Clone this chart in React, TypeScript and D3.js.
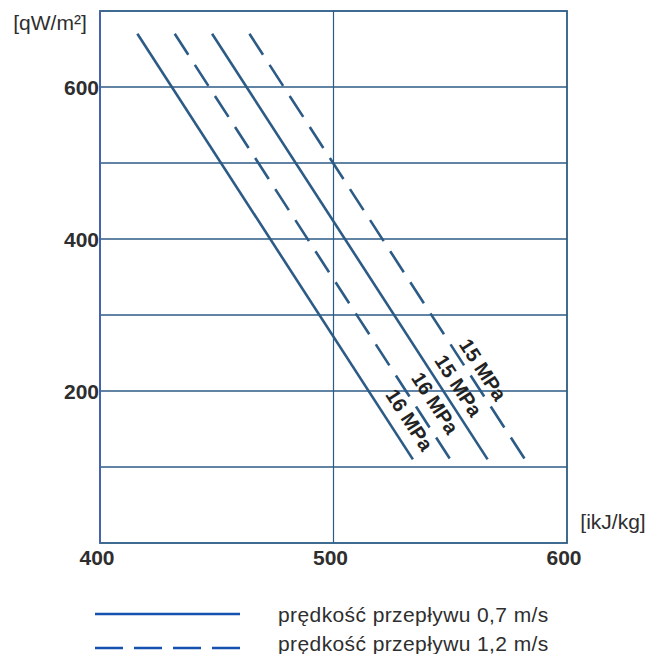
import React from "react";
import * as d3 from "d3";

// entalpia [kJ/kg] at the top and bottom end of each line
const startH = [416, 432, 448, 464];
const endH = [534, 550, 566, 582];
const qEnds = [670, 110];
const lineLabels = ["16 MPa", "16 MPa", "15 MPa", "15 MPa"];
const dashed = [false, true, false, true];
// where each rotated label is centred (h, q)
const labelH = [532.5, 543.5, 553.5, 564];
const labelQ = [162, 184, 207, 228];

const xTicks = [400, 500, 600];
const yTicks = [200, 400, 600];
const yGrid = [100, 200, 300, 400, 500, 600];
const legendLabels = ["prędkość przepływu 0,7 m/s", "prędkość przepływu 1,2 m/s"];

const W = 650;
const H = 654;
const lineColor = "#2c5b86";
const textColor = "#2e2e2e";

export default function App() {
  const x = d3.scaleLinear().domain([400, 600]).range([100, 567]);
  const y = d3.scaleLinear().domain([0, 700]).range([543, 11]);
  const line = d3.line<[number, number]>().x(d => x(d[0])).y(d => y(d[1]));

  return (
    <svg width={W} height={H} style={{ position: "absolute", left: 0, top: 0, background: "#fff" }}
      fontFamily="'Liberation Sans', Arial, sans-serif">
      {/* grid */}
      {yGrid.map(v => (
        <line key={v} x1={x(400)} x2={x(600)} y1={y(v)} y2={y(v)} stroke={lineColor} strokeWidth={1.6} />
      ))}
      <line x1={x(500)} x2={x(500)} y1={y(0)} y2={y(700)} stroke={lineColor} strokeWidth={1.2} />
      <rect x={x(400)} y={y(700)} width={x(600) - x(400)} height={y(0) - y(700)}
        fill="none" stroke={lineColor} strokeWidth={1.8} />
      <line x1={x(400)} x2={x(400)} y1={y(0)} y2={y(700)} stroke="#4a62b2" strokeWidth={1.8} />

      {/* curves */}
      {startH.map((h, i) => (
        <path key={i}
          d={line([[h, qEnds[0]], [endH[i], qEnds[1]]]) || ""}
          fill="none" stroke={lineColor} strokeWidth={2.6}
          strokeDasharray={dashed[i] ? "25 12" : undefined} />
      ))}

      {/* line labels */}
      {startH.map((h, i) => {
        const ang = Math.atan2(y(qEnds[1]) - y(qEnds[0]), x(endH[i]) - x(h)) * 180 / Math.PI;
        const lx = x(labelH[i]);
        const ly = y(labelQ[i]);
        return (
          <text key={i} x={lx} y={ly} transform={`rotate(${ang} ${lx} ${ly})`}
            textAnchor="middle" dominantBaseline="central" fontSize={20} fontWeight="bold"
            fill="#222">
            {lineLabels[i]}
          </text>
        );
      })}

      {/* axes labels */}
      {yTicks.map(v => (
        <text key={v} x={99} y={y(v)} textAnchor="end" dominantBaseline="central"
          fontSize={21} fontWeight="bold" fill={textColor}>{v}</text>
      ))}
      {xTicks.map(v => (
        <text key={v} x={x(v) - 3} y={557} textAnchor="middle" dominantBaseline="central"
          fontSize={21} fontWeight="bold" fill={textColor}>{v}</text>
      ))}
      <text x={50} y={22} textAnchor="middle" dominantBaseline="central" fontSize={21} fill={textColor}>[qW/m²]</text>
      <text x={613} y={521} textAnchor="middle" dominantBaseline="central" fontSize={21} fill={textColor}>[ikJ/kg]</text>

      {/* legend */}
      {legendLabels.map((l, i) => (
        <g key={i}>
          <line x1={95} x2={240} y1={614 + i * 34} y2={614 + i * 34} stroke="#1552b0" strokeWidth={2.6}
            strokeDasharray={i === 1 ? "28 11" : undefined} />
          <text x={278} y={622 + i * 29} fontSize={21} letterSpacing={0.4} fill={textColor}>{l}</text>
        </g>
      ))}
    </svg>
  );
}
